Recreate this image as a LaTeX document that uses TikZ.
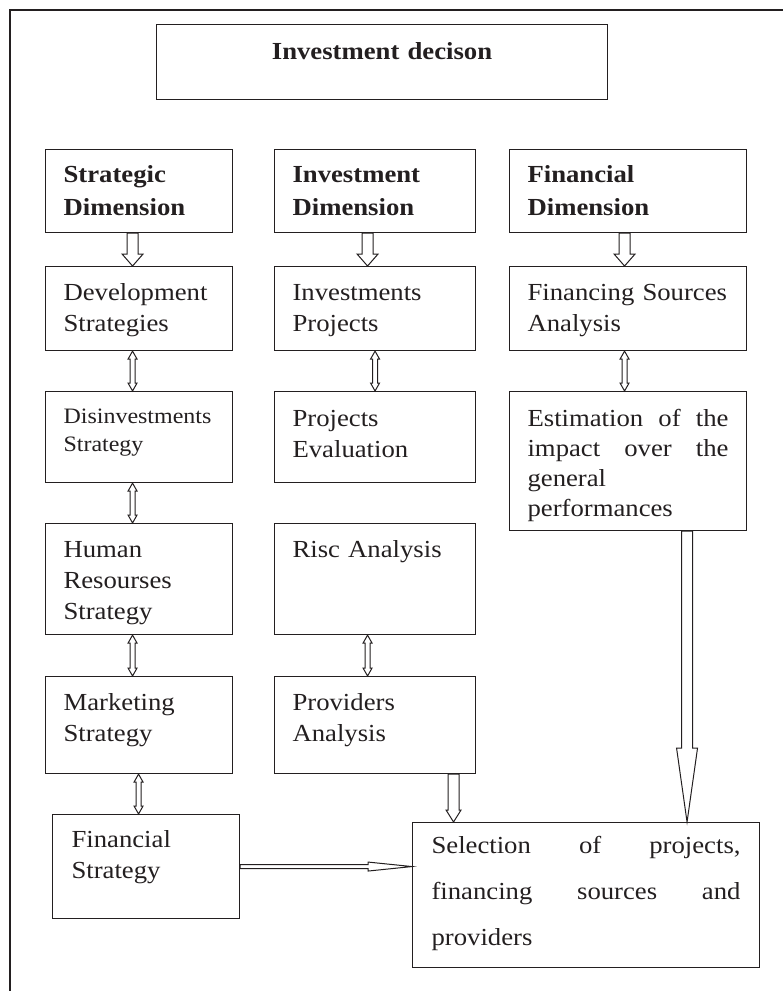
\documentclass[tikz,border=0pt]{standalone}
\usepackage{fontspec}
\setmainfont{Liberation Serif}[FakeStretch=1.09]
\usetikzlibrary{calc}
\definecolor{ink}{HTML}{231F20}

\tikzset{
  box/.style 2 args={draw=ink, line width=1.1pt, anchor=north west, align=left,
    inner xsep=18pt, inner ysep=8pt, text height=26pt, text width=#1, text depth=#2,
    text=ink, font=\fontsize{24.5}{31}\selectfont},
  title/.style={font=\fontsize{24.5}{33}\selectfont\bfseries},
  hollowdown/.style n args={3}{draw=ink, line width=1pt, fill=white,
    to path={let \p1=(\tikztostart), \p2=(\tikztotarget) in
      (\x1-#1pt,\y1) -- (\x1-#1pt,\y2+#3pt) -- (\x1-#2pt,\y2+#3pt) -- (\x1,\y2)
      -- (\x1+#2pt,\y2+#3pt) -- (\x1+#1pt,\y2+#3pt) -- (\x1+#1pt,\y1) -- cycle}},
  hollowboth/.style n args={3}{draw=ink, line width=1pt, fill=white,
    to path={let \p1=(\tikztostart), \p2=(\tikztotarget) in
      (\x1-#1pt,\y1-#3pt) -- (\x1-#2pt,\y1-#3pt) -- (\x1,\y1) -- (\x1+#2pt,\y1-#3pt)
      -- (\x1+#1pt,\y1-#3pt) -- (\x1+#1pt,\y2+#3pt) -- (\x1+#2pt,\y2+#3pt) -- (\x1,\y2)
      -- (\x1-#2pt,\y2+#3pt) -- (\x1-#1pt,\y2+#3pt) -- cycle}},
  hollowright/.style n args={3}{draw=ink, line width=1pt, fill=white,
    to path={let \p1=(\tikztostart), \p2=(\tikztotarget) in
      (\x1,\y1+#1pt) -- (\x2-#3pt,\y1+#1pt) -- (\x2-#3pt,\y1+#2pt) -- (\x2,\y1)
      -- (\x2-#3pt,\y1-#2pt) -- (\x2-#3pt,\y1-#1pt) -- (\x1,\y1-#1pt) -- cycle}}
}

\begin{document}
\begin{tikzpicture}[x=1pt, y=-1pt]
  \useasboundingbox (0,0) rectangle (783,991);
  % open frame
  \draw[ink, line width=1.2pt] (10,991) -- (10,10) -- (783,10);

  % decision
  \node[box={415pt}{32pt}, align=center, text height=27pt, title] (dec) at (156,24) {Investment decison};

  % dimensions
  \node[box={151pt}{42pt}, text height=25pt, title] (sd) at (45,149) {Strategic\\Dimension};
  \node[box={165pt}{42pt}, text height=25pt, title] (idm) at (274,149) {Investment\\Dimension};
  \node[box={201pt}{42pt}, text height=25pt, title] (fd) at (509,149) {Financial\\Dimension};

  % strategic column
  \node[box={151pt}{42pt}] (dev) at (45,266) {Development\\Strategies};
  \node[box={151pt}{51pt}, text height=24pt, font=\fontsize{22}{28}\selectfont] (dis) at (45,391) {Disinvestments\\Strategy};
  \node[box={151pt}{69pt}] (hr) at (45,523) {Human\\Resourses\\Strategy};
  \node[box={151pt}{55pt}] (ms) at (45,676) {Marketing\\Strategy};
  \node[box={151pt}{63pt}, text height=25pt, inner xsep=19pt, text width=149pt] (fs) at (52,814) {Financial\\Strategy};

  % investment column
  \node[box={165pt}{42pt}] (ip) at (274,266) {Investments\\Projects};
  \node[box={165pt}{48pt}, text height=27pt] (pe) at (274,391) {Projects\\Evaluation};
  \node[box={165pt}{69pt}] (ra) at (274,523) {Risc Analysis};
  \node[box={165pt}{55pt}] (pa) at (274,676) {Providers\\Analysis};

  % financial column
  \node[box={201pt}{42pt}] (fsa) at (509,266) {Financing Sources\\Analysis};
  \node[box={201pt}{96pt}, text height=27pt, font=\fontsize{24.5}{30}\selectfont] (est) at (509,391)
    {Estimation\hfill of\hfill the\\impact\hfill over\hfill the\\general\\performances};

  % selection
  \node[box={309pt}{106pt}, inner xsep=19pt, text height=23pt, font=\fontsize{24.5}{46}\selectfont] (sel) at (412,822)
    {Selection\hfill of\hfill projects,\\financing\hfill sources\hfill and\\providers};

  % dimension arrows
  \draw[hollowdown={5.5}{10.5}{12}] ([xshift=-6.5pt]sd.south) to ([xshift=-6.5pt]sd.south |- dev.north);
  \draw[hollowdown={5.5}{10.5}{12}] ([xshift=-7.5pt]idm.south) to ([xshift=-7.5pt]idm.south |- ip.north);
  \draw[hollowdown={5.5}{10.5}{12}] ([xshift=-3.5pt]fd.south) to ([xshift=-3.5pt]fd.south |- fsa.north);

  % two-way links
  \foreach \a/\b/\dx in {dev/dis/-6.5, dis/hr/-6.5, hr/ms/-6.5, ms/fs/-0.5,
                         ip/pe/0, ra/pa/-7.5, fsa/est/-3.5} {
    \draw[hollowboth={2.5}{4.5}{8}] ([xshift=\dx pt]\a.south) to ([xshift=\dx pt]\a.south |- \b.north);
  }

  % into selection
  \draw[hollowdown={5.5}{7.5}{12}] ([xshift=78.5pt]pa.south) to ([xshift=78.5pt]pa.south |- sel.north);
  \draw[hollowdown={5.5}{10.5}{74}] ([xshift=59pt]est.south) to ([xshift=59pt]est.south |- sel.north);
  \draw[hollowright={2}{4.5}{44}] (fs.east) to (fs.east -| sel.west);
\end{tikzpicture}
\end{document}
